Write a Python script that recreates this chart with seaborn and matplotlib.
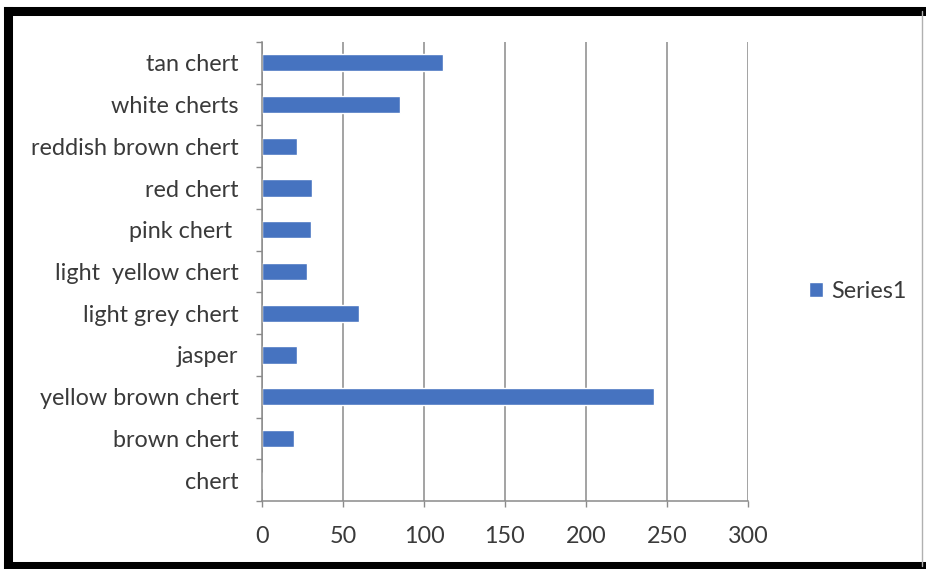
import matplotlib
matplotlib.use("Agg")
import matplotlib.pyplot as plt
from matplotlib.lines import Line2D
from matplotlib.ticker import FixedLocator
import seaborn as sns
import pandas as pd

# Chert types (top to bottom) and their counts
categories = [
    "tan chert", "white cherts", "reddish brown chert", "red chert",
    "pink chert ", "light  yellow chert", "light grey chert", "jasper",
    "yellow brown chert", "brown chert", "chert",
]
series1 = [111.5, 85, 21.5, 31, 30, 27.5, 60, 21.5, 242, 20, 0]
x_ticks = [0, 50, 100, 150, 200, 250, 300]

df = pd.DataFrame({"type": categories, "count": series1})

sns.set_theme(style="white")
plt.rcParams["font.family"] = ["Lato", "DejaVu Sans"]

text_color = "#3a3a3a"
grid_color = "#8a8a8a"
bar_color = "#4673c0"
fs = 16.8

fig = plt.figure(figsize=(9.26, 5.69), dpi=100)
fig.patch.set_facecolor("white")
ax = fig.add_axes([262 / 926, 68 / 569, 486 / 926, 459 / 569])

sns.barplot(data=df, x="count", y="type", orient="h", color=bar_color,
            width=0.41, saturation=1, label="Series1", ax=ax)

ax.set_xlim(0, 300)
ax.set_ylim(len(categories) - 0.5, -0.5)
ax.set_xticks(x_ticks)
ax.set_xticklabels([str(t) for t in x_ticks])
ax.set_xlabel("")
ax.set_ylabel("")

# vertical gridlines
ax.grid(axis="x", color=grid_color, linewidth=1.1)
ax.grid(axis="y", visible=False)
ax.set_axisbelow(True)

for side in ("top", "right"):
    ax.spines[side].set_visible(False)
for side in ("left", "bottom"):
    ax.spines[side].set_color(grid_color)
    ax.spines[side].set_linewidth(1.1)

# category boundary tick marks on the value axis
ax.yaxis.set_minor_locator(FixedLocator([i - 0.5 for i in range(len(categories) + 1)]))
ax.tick_params(axis="y", which="major", length=0, pad=17, labelsize=fs,
               labelcolor=text_color)
ax.tick_params(axis="y", which="minor", left=True, length=4, width=1,
               color=grid_color)
ax.tick_params(axis="x", which="major", bottom=True, length=4, width=1,
               color=grid_color, pad=14, labelsize=fs, labelcolor=text_color)

leg = ax.legend(loc="center left", bbox_to_anchor=(788 / 926, 1 - 291 / 569),
                bbox_transform=fig.transFigure, frameon=False,
                handlelength=0.6, handleheight=0.6, handletextpad=0.35,
                fontsize=fs, labelcolor=text_color)

# black frame around the chart
frame_kw = dict(transform=fig.transFigure, color="black", linewidth=6.5,
                solid_capstyle="projecting")
fig.add_artist(Line2D([7.5 / 926, 7.5 / 926], [1 - 10.5 / 569, 1 - 566 / 569], **frame_kw))
fig.add_artist(Line2D([7.5 / 926, 1.0], [1 - 10.5 / 569, 1 - 10.5 / 569], **frame_kw))
fig.add_artist(Line2D([7.5 / 926, 1.0], [1 - 566 / 569, 1 - 566 / 569], **frame_kw))
fig.add_artist(Line2D([922 / 926, 922 / 926], [1 - 10.5 / 569, 1 - 566 / 569],
                      transform=fig.transFigure, color="#b0b0b0", linewidth=1))

fig.savefig("out.png", dpi=100)
